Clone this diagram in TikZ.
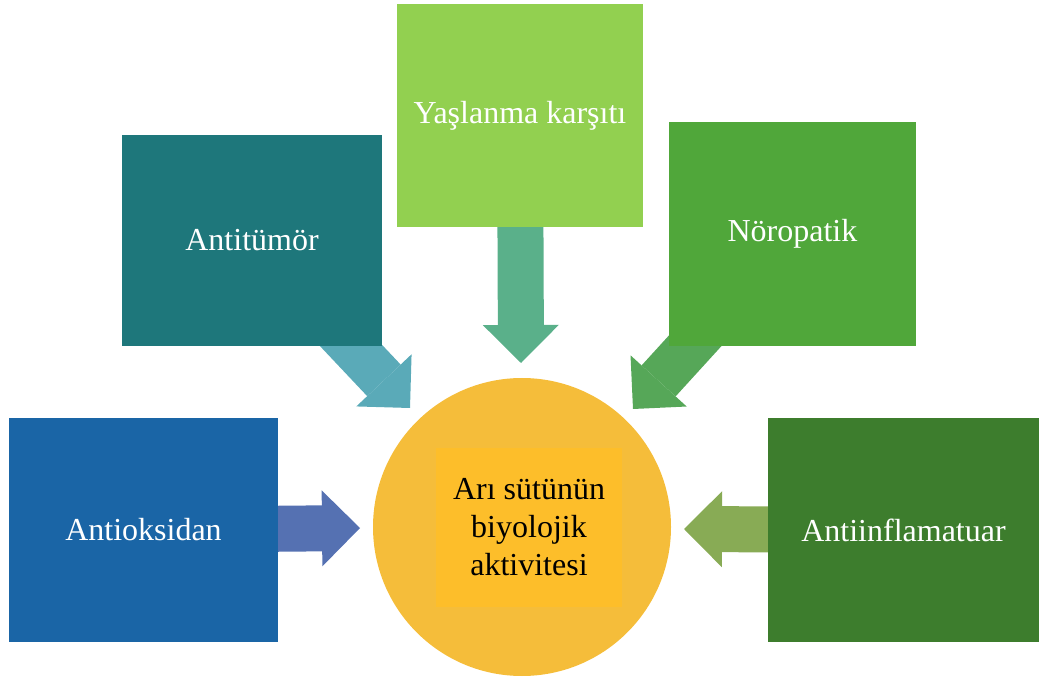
\documentclass[tikz,border=0pt]{standalone}
\usepackage{fontspec}
\setmainfont{Liberation Serif}
\usepackage{tikz}
\usetikzlibrary{
	arrows.meta,
	positioning,
	backgrounds
}

\definecolor{oxblue}{RGB}{26,101,166}
\definecolor{tumorteal}{RGB}{30,119,123}
\definecolor{agegreen}{RGB}{146,208,80}
\definecolor{neurogreen}{RGB}{80,167,58}
\definecolor{inflgreen}{RGB}{61,125,45}
\definecolor{hubyellow}{RGB}{245,189,58}
\definecolor{coreyellow}{RGB}{253,190,42}
\definecolor{arrowblue}{RGB}{85,113,178}
\definecolor{arrowteal}{RGB}{90,170,184}
\definecolor{arrowmint}{RGB}{90,176,138}
\definecolor{arrowgreen}{RGB}{86,167,88}
\definecolor{arrowolive}{RGB}{136,171,85}

\begin{document}
\begin{tikzpicture}[
    x=1pt, y=-1pt,
    box/.style={rectangle, inner sep=0pt, outer sep=0pt, align=center, text=white, font=\fontsize{32pt}{38.4pt}\selectfont},
    hubcircle/.style={circle, fill=hubyellow, inner sep=0pt, outer sep=0pt, minimum size=298pt},
    corebox/.style={rectangle, fill=coreyellow, inner sep=0pt, outer sep=0pt, minimum width=186pt, minimum height=159pt, align=center, font=\fontsize{32pt}{38.4pt}\selectfont},
    fatarrow/.style={draw=#1, line width=46pt, -{Triangle[length=38pt, width=76pt, line width=0pt]}}
]
\useasboundingbox (0,0) rectangle (1039,684);

% Nodes
\node[hubcircle] (hub) at (522,527) {};

\node[corebox] (core) at ([xshift=7pt]hub.center) {Arı sütünün\\biyolojik\\aktivitesi};

\node[box, left=95pt of hub, yshift=-3pt, fill=oxblue, minimum width=269pt, minimum height=224pt] (antiox) {Antioksidan};

\node[box, above left=75.6pt and 34.6pt of hub, fill=tumorteal, minimum width=260pt, minimum height=211pt] (antitumor) {Antitümör};

\node[box, above=151pt of hub, xshift=-2pt, fill=agegreen, minimum width=246pt, minimum height=223pt] (yaslanma) {Yaşlanma karşıtı};

\node[box, above right=75.6pt and 41.6pt of hub, fill=neurogreen, minimum width=247pt, minimum height=224pt] (noropatik) {Nöropatik};

\node[box, right=97pt of hub, yshift=-3pt, fill=inflgreen, minimum width=271pt, minimum height=224pt] (antiinf) {Antiinflamatuar};

% Arrow tips
\coordinate (tipL) at (360,528);
\coordinate (tipTL) at (410,408);
\coordinate (tipT) at (521,363);
\coordinate (tipTR) at (633,409);
\coordinate (tipR) at (684,529);

\begin{pgfonlayer}{background}
\draw[fatarrow=arrowblue] (antiox.center) -- (tipL);
\draw[fatarrow=arrowteal] (antitumor.center) -- (tipTL);
\draw[fatarrow=arrowmint] (yaslanma.center) -- (tipT);
\draw[fatarrow=arrowgreen] (noropatik.center) -- (tipTR);
\draw[fatarrow=arrowolive] (antiinf.center) -- (tipR);
\end{pgfonlayer}

\end{tikzpicture}
\end{document}
